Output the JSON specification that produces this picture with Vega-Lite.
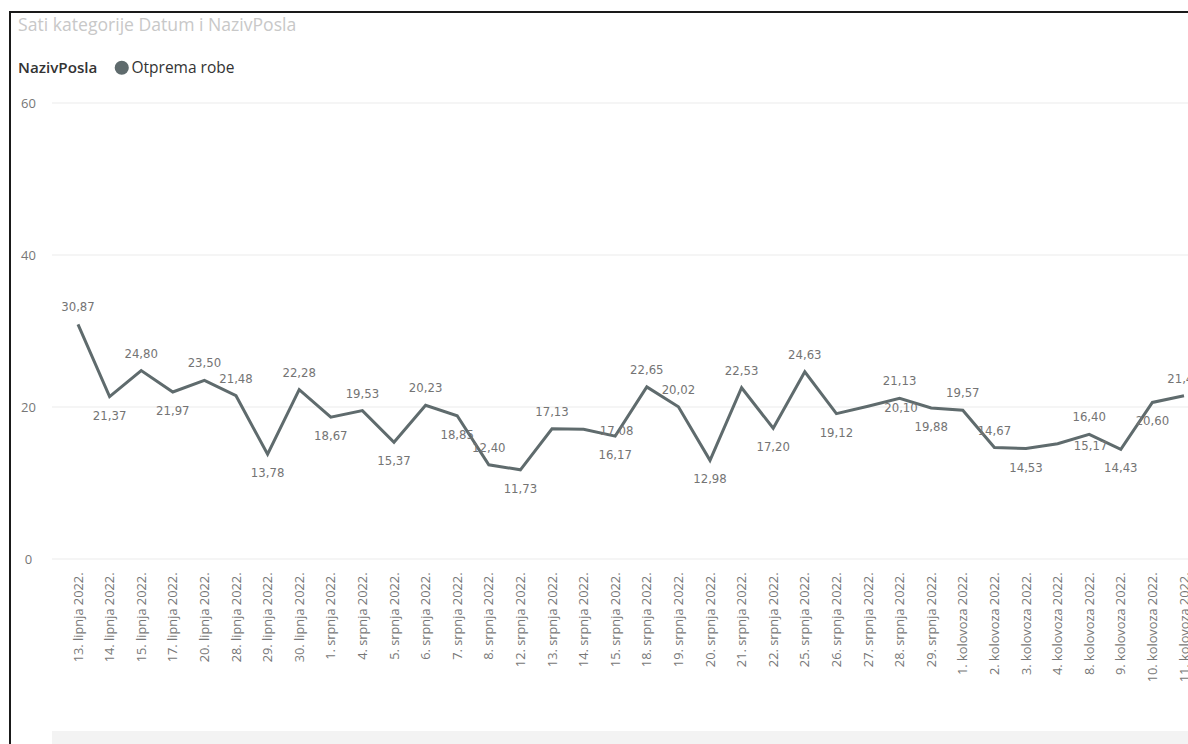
{
  "$schema": "https://vega.github.io/schema/vega-lite/v6.json",
  "width": 1178,
  "height": 732,
  "autosize": {"type": "none"},
  "padding": {"left": 10, "top": 12, "right": 0, "bottom": 0},
  "background": "white",
  "config": {
    "locale": {"number": {"decimal": ",", "thousands": ".", "grouping": [3], "currency": ["", ""]}},
    "view": {"stroke": "#1a1a1a", "strokeWidth": 2, "strokeDash": [1178, 1910, 734, 10]},
    "font": "Open Sans"
  },
  "title": {
    "text": "Sati kategorije Datum i NazivPosla",
    "anchor": "start",
    "frame": "group",
    "orient": "top",
    "offset": 0,
    "dx": 8,
    "dy": 32,
    "baseline": "middle",
    "fontSize": 17.6,
    "fontWeight": "normal",
    "color": "#c8c8c8",
    "font": "Open Sans"
  },
  "datasets": {
    "main": [
      {"Datum": "13. lipnja 2022.", "Sati": 30.87, "NazivPosla": "Otprema robe"},
      {"Datum": "14. lipnja 2022.", "Sati": 21.37, "NazivPosla": "Otprema robe"},
      {"Datum": "15. lipnja 2022.", "Sati": 24.80, "NazivPosla": "Otprema robe"},
      {"Datum": "17. lipnja 2022.", "Sati": 21.97, "NazivPosla": "Otprema robe"},
      {"Datum": "20. lipnja 2022.", "Sati": 23.50, "NazivPosla": "Otprema robe"},
      {"Datum": "28. lipnja 2022.", "Sati": 21.48, "NazivPosla": "Otprema robe"},
      {"Datum": "29. lipnja 2022.", "Sati": 13.78, "NazivPosla": "Otprema robe"},
      {"Datum": "30. lipnja 2022.", "Sati": 22.28, "NazivPosla": "Otprema robe"},
      {"Datum": "1. srpnja 2022.", "Sati": 18.67, "NazivPosla": "Otprema robe"},
      {"Datum": "4. srpnja 2022.", "Sati": 19.53, "NazivPosla": "Otprema robe"},
      {"Datum": "5. srpnja 2022.", "Sati": 15.37, "NazivPosla": "Otprema robe"},
      {"Datum": "6. srpnja 2022.", "Sati": 20.23, "NazivPosla": "Otprema robe"},
      {"Datum": "7. srpnja 2022.", "Sati": 18.85, "NazivPosla": "Otprema robe"},
      {"Datum": "8. srpnja 2022.", "Sati": 12.40, "NazivPosla": "Otprema robe"},
      {"Datum": "12. srpnja 2022.", "Sati": 11.73, "NazivPosla": "Otprema robe"},
      {"Datum": "13. srpnja 2022.", "Sati": 17.13, "NazivPosla": "Otprema robe"},
      {"Datum": "14. srpnja 2022.", "Sati": 17.08, "NazivPosla": "Otprema robe"},
      {"Datum": "15. srpnja 2022.", "Sati": 16.17, "NazivPosla": "Otprema robe"},
      {"Datum": "18. srpnja 2022.", "Sati": 22.65, "NazivPosla": "Otprema robe"},
      {"Datum": "19. srpnja 2022.", "Sati": 20.02, "NazivPosla": "Otprema robe"},
      {"Datum": "20. srpnja 2022.", "Sati": 12.98, "NazivPosla": "Otprema robe"},
      {"Datum": "21. srpnja 2022.", "Sati": 22.53, "NazivPosla": "Otprema robe"},
      {"Datum": "22. srpnja 2022.", "Sati": 17.20, "NazivPosla": "Otprema robe"},
      {"Datum": "25. srpnja 2022.", "Sati": 24.63, "NazivPosla": "Otprema robe"},
      {"Datum": "26. srpnja 2022.", "Sati": 19.12, "NazivPosla": "Otprema robe"},
      {"Datum": "27. srpnja 2022.", "Sati": 20.10, "NazivPosla": "Otprema robe"},
      {"Datum": "28. srpnja 2022.", "Sati": 21.13, "NazivPosla": "Otprema robe"},
      {"Datum": "29. srpnja 2022.", "Sati": 19.88, "NazivPosla": "Otprema robe"},
      {"Datum": "1. kolovoza 2022.", "Sati": 19.57, "NazivPosla": "Otprema robe"},
      {"Datum": "2. kolovoza 2022.", "Sati": 14.67, "NazivPosla": "Otprema robe"},
      {"Datum": "3. kolovoza 2022.", "Sati": 14.53, "NazivPosla": "Otprema robe"},
      {"Datum": "4. kolovoza 2022.", "Sati": 15.17, "NazivPosla": "Otprema robe"},
      {"Datum": "8. kolovoza 2022.", "Sati": 16.40, "NazivPosla": "Otprema robe"},
      {"Datum": "9. kolovoza 2022.", "Sati": 14.43, "NazivPosla": "Otprema robe"},
      {"Datum": "10. kolovoza 2022.", "Sati": 20.60, "NazivPosla": "Otprema robe"},
      {"Datum": "11. kolovoza 2022.", "Sati": 21.47, "NazivPosla": "Otprema robe"}
    ],
    "grid": [{"g": 0}, {"g": 20}, {"g": 40}, {"g": 60}]
  },
  "resolve": {"scale": {"x": "independent"}, "axis": {"x": "independent"}},
  "layer": [
    {
      "data": {"name": "grid"},
      "mark": {"type": "rule", "color": "#ebebeb", "strokeWidth": 1},
      "encoding": {
        "y": {"field": "g", "type": "quantitative", "scale": {"domain": [0, 60], "range": [547, 91]}, "axis": {"title": null, "values": [0, 20, 40, 60], "grid": false, "domain": false, "ticks": false, "tickSize": 0, "labelPadding": 0, "labelAlign": "center", "offset": -18, "labelFont": "Open Sans", "labelFontSize": 13, "labelColor": "#777777"}},
        "x": {"datum": 0, "type": "quantitative", "scale": {"domain": [0, 1], "range": [42, 1178]}, "axis": null},
        "x2": {"datum": 1}
      }
    },
    {
      "data": {"name": "grid"},
      "transform": [{"filter": "datum.g == 0"}],
      "mark": {"type": "rect", "color": "#f3f3f3"},
      "encoding": {
        "y": {"datum": -22.63, "type": "quantitative"},
        "y2": {"datum": -24.5},
        "x": {"datum": 0, "type": "quantitative", "scale": {"domain": [0, 1], "range": [42, 1178]}, "axis": null},
        "x2": {"datum": 1}
      }
    },
    {
      "data": {"name": "main"},
      "encoding": {
        "x": {
          "field": "Datum",
          "type": "ordinal",
          "sort": null,
          "scale": {"type": "point", "range": [68, 1174], "padding": 0},
          "axis": {"title": null, "labelAngle": 270, "domain": false, "ticks": false, "tickSize": 0, "labelPadding": 13, "offset": -185, "labelFont": "Open Sans", "labelFontSize": 12.8, "labelColor": "#777777", "grid": false, "labelOverlap": false, "labelBound": false}
        },
        "y": {"field": "Sati", "type": "quantitative", "scale": {"domain": [0, 60], "range": [547, 91]}, "axis": {"title": null, "values": [0, 20, 40, 60], "grid": false, "domain": false, "ticks": false, "tickSize": 0, "labelPadding": 0, "labelAlign": "center", "offset": -18, "labelFont": "Open Sans", "labelFontSize": 13, "labelColor": "#777777"}}
      },
      "layer": [
        {
          "mark": {"type": "line", "strokeWidth": 3, "strokeJoin": "miter"},
          "encoding": {
            "color": {
              "field": "NazivPosla",
              "type": "nominal",
              "scale": {"range": ["#5f6b6d"]},
              "legend": {
                "orient": "none",
                "legendX": 8,
                "legendY": 48,
                "direction": "horizontal",
                "title": "NazivPosla",
                "titleOrient": "left",
                "titleFont": "Open Sans",
                "titleFontWeight": 600,
                "titleFontSize": 15.2,
                "titleColor": "#333333",
                "titlePadding": 16,
                "labelFont": "Open Sans",
                "labelFontSize": 15.5,
                "labelColor": "#333333",
                "labelOffset": 2,
                "symbolType": "circle",
                "symbolSize": 200,
                "encode": {"symbols": {"update": {"fill": {"value": "#5f6b6d"}, "stroke": {"value": "#5f6b6d"}, "strokeWidth": {"value": 0}}}}
              }
            }
          }
        },
        {
          "transform": [{"filter": {"field": "Datum", "oneOf": ["13. lipnja 2022.", "15. lipnja 2022.", "20. lipnja 2022.", "28. lipnja 2022.", "30. lipnja 2022.", "4. srpnja 2022.", "6. srpnja 2022.", "8. srpnja 2022.", "13. srpnja 2022.", "18. srpnja 2022.", "19. srpnja 2022.", "21. srpnja 2022.", "25. srpnja 2022.", "28. srpnja 2022.", "1. kolovoza 2022.", "2. kolovoza 2022.", "8. kolovoza 2022.", "11. kolovoza 2022."]}}],
          "mark": {"type": "text", "dy": -17, "font": "DejaVu Sans Condensed", "fontSize": 13, "color": "#747474"},
          "encoding": {"text": {"field": "Sati", "type": "quantitative", "format": ".2f"}}
        },
        {
          "transform": [{"filter": {"field": "Datum", "oneOf": ["14. lipnja 2022.", "17. lipnja 2022.", "29. lipnja 2022.", "1. srpnja 2022.", "5. srpnja 2022.", "7. srpnja 2022.", "12. srpnja 2022.", "15. srpnja 2022.", "20. srpnja 2022.", "22. srpnja 2022.", "26. srpnja 2022.", "29. srpnja 2022.", "3. kolovoza 2022.", "9. kolovoza 2022.", "10. kolovoza 2022."]}}],
          "mark": {"type": "text", "dy": 19, "font": "DejaVu Sans Condensed", "fontSize": 13, "color": "#747474"},
          "encoding": {"text": {"field": "Sati", "type": "quantitative", "format": ".2f"}}
        },
        {
          "transform": [{"filter": {"field": "Datum", "oneOf": ["14. srpnja 2022.", "27. srpnja 2022.", "4. kolovoza 2022."]}}],
          "mark": {"type": "text", "dx": 33, "dy": 2, "font": "DejaVu Sans Condensed", "fontSize": 13, "color": "#747474"},
          "encoding": {"text": {"field": "Sati", "type": "quantitative", "format": ".2f"}}
        }
      ]
    }
  ]
}
